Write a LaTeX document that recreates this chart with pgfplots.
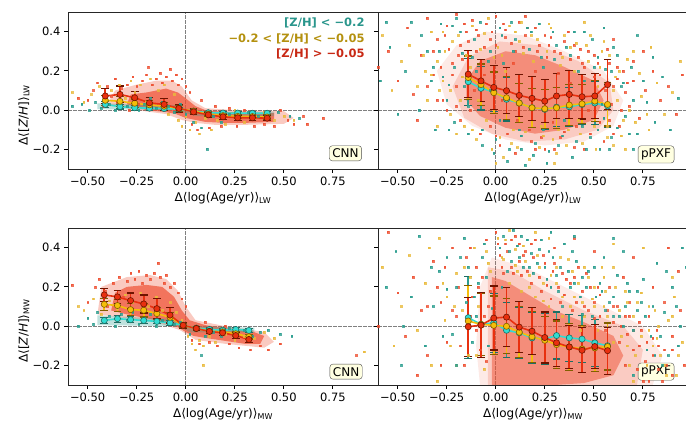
\documentclass[border=0pt]{standalone}
\usepackage{pgfplots}
\pgfplotsset{compat=1.18}
\usepackage{fontspec}
\setmainfont{DejaVu Sans}
\definecolor{tealS}{RGB}{42,157,143}
\definecolor{goldS}{RGB}{233,186,60}
\definecolor{redS}{RGB}{238,80,50}
\definecolor{cyanM}{RGB}{50,220,210}
\definecolor{cyanE}{RGB}{30,110,100}
\definecolor{goldM}{RGB}{245,190,10}
\definecolor{goldE}{RGB}{130,95,0}
\definecolor{redM}{RGB}{232,48,15}
\definecolor{redE}{RGB}{110,20,0}
\definecolor{tealT}{RGB}{42,150,140}
\definecolor{goldT}{RGB}{180,145,15}
\definecolor{redT}{RGB}{200,40,20}
\definecolor{boxfill}{RGB}{255,255,225}
\tikzset{lab/.style={draw=black!70, fill=boxfill, rounded corners=3pt, inner sep=3pt, font=\fontsize{12}{14}\selectfont}}
\pgfplotsset{
 panel/.style={width=310pt, height=157pt, scale only axis,
  xmin=-0.6, xmax=0.98, ymin=-0.3, ymax=0.5,
  xtick={-0.5,-0.25,0,0.25,0.5,0.75}, xticklabels={−0.50,−0.25,0.00,0.25,0.50,0.75},
  ytick={-0.2,0,0.2,0.4},
  tick align=outside, tick pos=left, major tick length=4pt,
  tick style={black, line width=0.8pt},
  axis line style={black!85, line width=0.9pt},
  tick label style={font=\fontsize{11.5}{13}\selectfont},
  label style={font=\fontsize{12}{14}\selectfont},
  xlabel style={at={(axis description cs:0.5,-0.185)}, anchor=center},
  ylabel style={at={(axis description cs:-0.142,0.344)}, anchor=center},
  axis on top, anchor=south west},
 zl/.style={gray, line width=0.7pt, dash pattern=on 3.5pt off 1.5pt},
 scR/.style={only marks, mark=square*, mark size=0.9pt, color=redS, opacity=0.8},
 scG/.style={only marks, mark=square*, mark size=0.9pt, color=goldS, opacity=0.8},
 scT/.style={only marks, mark=square*, mark size=0.9pt, color=tealS, opacity=0.8},
 mC/.style={color=cyanM, line width=1.6pt, mark=*, mark size=3.1pt, mark options={fill=cyanM, draw=cyanE, line width=0.6pt},
  error bars/y dir=both, error bars/y explicit, error bars/error bar style={line width=1.7pt, draw=tealS},
  error bars/error mark options={line width=1.2pt, mark size=3.8pt, draw=cyanE, rotate=90}},
 mG/.style={color=goldM, line width=1.6pt, mark=*, mark size=3.1pt, mark options={fill=goldM, draw=goldE, line width=0.6pt},
  error bars/y dir=both, error bars/y explicit, error bars/error bar style={line width=1.7pt, draw=goldM},
  error bars/error mark options={line width=1.2pt, mark size=3.8pt, draw=goldE, rotate=90}},
 mR/.style={color=redM, line width=1.6pt, mark=*, mark size=3.1pt, mark options={fill=redM, draw=redE, line width=0.6pt},
  error bars/y dir=both, error bars/y explicit, error bars/error bar style={line width=1.7pt, draw=redM},
  error bars/error mark options={line width=1.2pt, mark size=3.8pt, draw=redE, rotate=90}},
}
\begin{document}
\begin{tikzpicture}
\useasboundingbox (0,0) rectangle (686pt,423pt);
% ---------------- top left: CNN LW
\begin{axis}[panel, at={(68pt,254pt)}, yticklabels={−0.2,0.0,0.2,0.4},
 xlabel={Δ⟨log(Age/yr)⟩\textsubscript{LW}}, ylabel={Δ⟨[\textit{Z}/\textit{H}]⟩\textsubscript{LW}}]
\addplot[zl] coordinates {(0,-0.3) (0,0.5)};
\addplot[zl] coordinates {(-0.6,0) (0.98,0)};
\addplot[fill=redS, fill opacity=0.3, draw=none] coordinates {(-0.4,0.03)(-0.36,0.1)(-0.25,0.13)(-0.15,0.15)(-0.07,0.15)(-0.02,0.12)(0.03,0.05)(0.1,0.01)(0.25,0.0)(0.5,-0.005)(0.55,-0.04)(0.5,-0.07)(0.3,-0.075)(0.15,-0.075)(0.05,-0.065)(-0.02,-0.05)(-0.1,-0.02)(-0.25,0.0)} -- cycle;
\addplot[fill=redS, fill opacity=0.7, draw=none] coordinates {(-0.3,0.03)(-0.28,0.08)(-0.2,0.09)(-0.1,0.11)(-0.04,0.09)(0.0,0.06)(0.05,0.02)(0.1,0.0)(0.2,-0.01)(0.3,-0.015)(0.45,-0.015)(0.45,-0.06)(0.3,-0.065)(0.2,-0.065)(0.1,-0.06)(0.05,-0.05)(0.0,-0.04)(-0.05,-0.02)(-0.1,-0.01)(-0.2,0.0)} -- cycle;
\addplot[fill=tealS, fill opacity=0.3, draw=none] coordinates {(-0.45,0.005)(-0.45,0.035)(-0.05,0.025)(0.05,-0.008)(0.45,-0.008)(0.45,-0.03)(0.05,-0.03)(-0.05,0.0)} -- cycle;
\addplot[scR] coordinates {(-0.55,0.06)(-0.5,0.05)(-0.47,0.1)(-0.45,0.14)(-0.42,0.02)(-0.4,0.12)(-0.38,0.07)(-0.36,0.16)(-0.35,0.04)(-0.33,0.11)(-0.3,0.13)(-0.29,0.0)(-0.27,0.17)(-0.25,0.12)(-0.24,0.03)(-0.22,0.15)(-0.2,0.18)(-0.19,0.22)(-0.17,0.13)(-0.15,0.16)(-0.13,0.19)(-0.12,0.14)(-0.1,0.17)(-0.08,0.21)(-0.07,0.15)(-0.05,0.18)(-0.04,0.13)(-0.02,0.16)(0.0,0.12)(0.02,0.09)(0.03,-0.07)(0.06,-0.1)(0.08,0.05)(0.12,-0.09)(0.15,0.02)(0.18,-0.08)(0.22,0.01)(0.26,-0.08)(0.3,0.0)(0.35,-0.08)(0.4,-0.07)(0.45,-0.08)(0.48,0.0)(0.52,-0.05)(0.55,-0.07)(0.6,-0.03)(0.62,-0.07)(0.7,-0.04)};
\addplot[scG] coordinates {(-0.58,0.09)(-0.52,0.04)(-0.48,0.08)(-0.44,0.12)(-0.41,0.05)(-0.38,0.1)(-0.34,0.13)(-0.31,0.06)(-0.28,0.15)(-0.26,0.09)(-0.23,0.13)(-0.2,0.04)(-0.18,0.16)(-0.14,0.1)(-0.11,0.13)(-0.09,-0.02)(-0.06,0.08)(-0.04,-0.05)(-0.02,-0.08)(0.0,-0.03)(0.02,-0.1)(0.05,-0.06)(0.07,-0.12)(0.1,-0.04)(0.13,-0.1)(0.16,-0.05)(0.2,-0.07)(0.25,0.0)(0.3,-0.06)(0.35,-0.04)(0.4,-0.01)(0.45,-0.05)(0.5,-0.03)(0.55,-0.05)};
\addplot[scT] coordinates {(-0.58,0.02)(-0.53,0.03)(-0.49,0.0)(-0.46,0.04)(-0.43,0.01)(-0.39,0.03)(-0.36,0.0)(-0.33,0.05)(-0.3,0.02)(-0.27,0.04)(-0.24,0.0)(-0.21,0.03)(-0.18,0.06)(-0.15,0.01)(-0.12,0.04)(-0.09,0.02)(-0.06,-0.01)(-0.03,0.03)(0.0,-0.02)(0.04,-0.06)(0.08,-0.09)(0.11,-0.2)(0.14,-0.03)(0.18,-0.06)(0.22,-0.02)(0.27,-0.04)(0.32,-0.01)(0.37,-0.03)(0.42,-0.02)(0.47,-0.01)(0.53,-0.03)(0.58,-0.04)};
\addplot[mC] coordinates {(-0.41,0.029) +- (0,0.015) (-0.335,0.018) +- (0,0.012) (-0.26,0.012) +- (0,0.012) (-0.185,0.01) +- (0,0.01) (-0.11,0.008) +- (0,0.01) (-0.035,0.005) +- (0,0.01) (0.04,-0.005) +- (0,0.008) (0.115,-0.013) +- (0,0.008) (0.19,-0.015) +- (0,0.008) (0.265,-0.015) +- (0,0.008) (0.34,-0.016) +- (0,0.008) (0.415,-0.016) +- (0,0.008)};
\addplot[mG] coordinates {(-0.41,0.05) +- (0,0.025) (-0.335,0.045) +- (0,0.025) (-0.26,0.035) +- (0,0.022) (-0.185,0.027) +- (0,0.02) (-0.11,0.02) +- (0,0.02) (-0.035,0.008) +- (0,0.015) (0.04,-0.005) +- (0,0.012) (0.115,-0.02) +- (0,0.01) (0.19,-0.028) +- (0,0.01) (0.265,-0.032) +- (0,0.01) (0.34,-0.033) +- (0,0.01) (0.415,-0.035) +- (0,0.01)};
\addplot[mR] coordinates {(-0.41,0.072) +- (0,0.04) (-0.335,0.08) +- (0,0.043) (-0.26,0.063) +- (0,0.03) (-0.185,0.037) +- (0,0.026) (-0.11,0.029) +- (0,0.03) (-0.035,0.009) +- (0,0.02) (0.04,-0.009) +- (0,0.015) (0.115,-0.024) +- (0,0.012) (0.19,-0.034) +- (0,0.012) (0.265,-0.039) +- (0,0.012) (0.34,-0.039) +- (0,0.012) (0.415,-0.041) +- (0,0.012)};
\node[lab] at (rel axis cs:0.895,0.1) {CNN};
\node[anchor=east, font=\fontsize{11.5}{13}\selectfont\bfseries, text=tealT] at (rel axis cs:0.968,0.93) {[Z/H] < −0.2};
\node[anchor=east, font=\fontsize{11.5}{13}\selectfont\bfseries, text=goldT] at (rel axis cs:0.968,0.828) {−0.2 < [Z/H] < −0.05};
\node[anchor=east, font=\fontsize{11.5}{13}\selectfont\bfseries, text=redT] at (rel axis cs:0.968,0.732) {[Z/H] > −0.05};
\end{axis}
% ---------------- top right: pPXF LW
\begin{axis}[panel, at={(378pt,254pt)}, yticklabels={},
 xlabel={Δ⟨log(Age/yr)⟩\textsubscript{LW}}]
\addplot[zl] coordinates {(0,-0.3) (0,0.5)};
\addplot[zl] coordinates {(-0.6,0) (0.98,0)};
\addplot[fill=redS, fill opacity=0.12, draw=none] coordinates {(-0.3,0.2)(-0.2,0.33)(-0.05,0.4)(0.15,0.38)(0.35,0.3)(0.55,0.2)(0.65,0.05)(0.6,-0.08)(0.45,-0.16)(0.25,-0.18)(0.05,-0.15)(-0.12,-0.08)(-0.25,0.03)} -- cycle;
\addplot[fill=redS, fill opacity=0.2, draw=none] coordinates {(-0.22,0.12)(-0.14,0.27)(0.02,0.35)(0.22,0.33)(0.42,0.25)(0.58,0.14)(0.6,0.0)(0.52,-0.1)(0.35,-0.15)(0.15,-0.16)(-0.02,-0.12)(-0.16,-0.04)} -- cycle;
\addplot[fill=redS, fill opacity=0.5, draw=none] coordinates {(-0.15,0.15)(-0.08,0.25)(0.05,0.3)(0.2,0.28)(0.35,0.22)(0.5,0.15)(0.55,0.05)(0.5,-0.05)(0.35,-0.1)(0.2,-0.12)(0.05,-0.09)(-0.08,-0.03)(-0.15,0.05)} -- cycle;
\addplot[scR] coordinates {(-0.55,0.3)(-0.5,0.15)(-0.45,0.42)(-0.42,0.08)(-0.38,0.28)(-0.35,0.47)(-0.32,0.18)(-0.3,0.36)(-0.27,0.05)(-0.25,0.43)(-0.22,0.24)(-0.2,0.49)(-0.18,0.33)(-0.15,0.4)(-0.12,0.46)(-0.1,0.3)(-0.08,-0.12)(-0.05,0.44)(-0.03,0.36)(0.0,0.48)(0.02,-0.18)(0.05,0.41)(0.08,0.34)(0.1,-0.22)(0.12,0.45)(0.15,0.38)(0.18,-0.16)(0.2,0.42)(0.22,0.33)(0.25,-0.2)(0.28,0.37)(0.3,0.3)(0.33,-0.14)(0.35,0.35)(0.38,0.26)(0.4,-0.19)(0.43,0.31)(0.45,0.22)(0.48,-0.12)(0.5,0.28)(0.53,0.18)(0.55,-0.16)(0.58,0.24)(0.6,0.12)(0.63,-0.08)(0.65,0.2)(0.68,0.02)(0.7,0.15)(0.73,-0.04)(0.76,0.1)(0.8,0.2)(0.84,0.05)(0.88,0.12)(0.92,-0.02)(-0.6,0.22)(0.95,0.18)(0.6,0.36)(-0.4,-0.05)(0.75,0.3)(0.15,0.48)
(-0.28,0.22)(-0.24,0.31)(-0.2,0.12)(-0.17,0.26)(-0.14,0.35)(-0.11,0.1)(-0.09,0.38)(-0.06,0.18)(-0.03,-0.08)(0.0,0.33)(0.03,0.05)(0.06,-0.12)(0.09,0.24)(0.11,-0.05)(0.14,0.32)(0.17,-0.1)(0.2,0.2)(0.23,-0.14)(0.26,0.27)(0.29,-0.06)(0.32,0.19)(0.35,-0.11)(0.38,0.14)(0.41,-0.08)(0.44,0.24)(0.47,0.0)(0.5,0.17)(0.53,-0.06)(0.56,0.1)(0.59,0.03)(0.62,0.16)(-0.25,0.0)(-0.18,-0.05)(0.05,0.37)(0.25,0.38)(0.4,0.33)(0.6,-0.12)(0.66,0.09)(-0.32,0.3)(0.3,-0.2)
(-0.35,0.12)(-0.3,0.05)(-0.26,0.38)(-0.22,0.18)(-0.19,0.28)(-0.16,0.44)(-0.13,0.0)(-0.1,0.41)(-0.06,0.32)(-0.02,0.4)(0.04,0.44)(0.1,0.3)(0.16,0.42)(0.21,0.3)(0.27,0.33)(0.33,0.29)(0.37,0.4)(0.42,0.27)(0.47,0.3)(0.52,0.24)(0.57,0.31)(0.62,0.22)(0.67,0.14)(0.7,0.25)(0.64,0.0)(0.58,-0.05)(0.45,-0.2)(0.2,-0.2)(0.0,-0.13)(-0.2,0.02)};
\addplot[scG] coordinates {(-0.58,0.38)(-0.53,0.1)(-0.48,0.25)(-0.44,0.33)(-0.4,0.12)(-0.36,0.2)(-0.33,0.4)(-0.29,0.1)(-0.26,0.3)(-0.23,-0.02)(-0.19,0.38)(-0.16,-0.08)(-0.13,0.22)(-0.1,-0.15)(-0.06,0.39)(-0.02,-0.2)(0.01,0.32)(0.04,-0.24)(0.07,0.43)(0.11,-0.19)(0.14,0.29)(0.17,-0.25)(0.21,0.36)(0.24,-0.13)(0.27,0.44)(0.31,-0.22)(0.34,0.27)(0.37,-0.1)(0.41,0.34)(0.44,-0.17)(0.47,0.25)(0.51,-0.2)(0.54,0.3)(0.57,-0.08)(0.61,0.17)(0.64,-0.13)(0.67,0.26)(0.71,-0.06)(0.74,0.07)(0.78,-0.1)(0.82,0.14)(0.86,-0.02)(0.9,0.09)(0.94,0.25)(0.66,-0.2)(0.45,0.45)(-0.3,-0.08)(0.79,0.32)(0.3,-0.27)(0.0,-0.27)
(-0.27,0.15)(-0.22,0.35)(-0.18,0.05)(-0.15,0.28)(-0.12,-0.1)(-0.08,0.31)(-0.05,-0.05)(-0.01,0.27)(0.02,-0.14)(0.05,0.2)(0.08,-0.17)(0.12,0.35)(0.15,-0.11)(0.19,0.25)(0.22,-0.19)(0.26,0.3)(0.29,-0.15)(0.33,0.23)(0.36,-0.18)(0.4,0.2)(0.43,-0.12)(0.46,0.33)(0.5,-0.08)(0.53,0.22)(0.57,-0.14)(0.6,0.1)(0.63,0.2)(-0.3,0.25)(-0.2,-0.12)(0.1,0.4)(0.35,0.38)(0.55,0.35)(0.68,0.0)(-0.35,0.05)(0.65,-0.05)
(-0.37,0.28)(-0.33,0.18)(-0.27,0.4)(-0.23,0.1)(-0.17,0.17)(-0.12,0.43)(-0.09,0.05)(-0.04,0.47)(0.03,0.28)(0.09,-0.1)(0.13,0.45)(0.18,0.38)(0.23,-0.08)(0.28,0.42)(0.32,-0.1)(0.38,0.32)(0.42,-0.05)(0.48,0.38)(0.52,0.12)(0.58,0.28)(0.62,0.05)(0.7,0.3)(0.73,0.19)(0.77,-0.02)(0.6,-0.18)};
\addplot[scT] coordinates {(-0.59,0.15)(-0.54,0.32)(-0.5,-0.02)(-0.46,0.2)(-0.43,0.45)(-0.39,0.0)(-0.35,0.3)(-0.31,-0.1)(-0.28,0.44)(-0.24,0.13)(-0.21,-0.06)(-0.17,0.29)(-0.14,-0.12)(-0.11,0.36)(-0.07,-0.18)(-0.04,0.25)(-0.01,-0.22)(0.03,0.38)(0.06,-0.26)(0.09,0.3)(0.13,-0.2)(0.16,0.42)(0.19,-0.23)(0.23,0.27)(0.26,-0.27)(0.29,0.4)(0.32,-0.18)(0.36,0.32)(0.39,-0.24)(0.42,0.2)(0.46,-0.2)(0.49,0.36)(0.52,-0.1)(0.56,0.21)(0.59,-0.14)(0.62,0.28)(0.66,-0.03)(0.69,0.22)(0.72,-0.12)(0.77,0.04)(0.81,-0.06)(0.85,0.17)(0.89,-0.1)(0.93,0.06)(-0.56,0.45)(0.55,0.42)(-0.2,0.47)(0.72,0.38)(0.15,-0.28)(0.7,-0.2)
(-0.29,0.3)(-0.25,0.05)(-0.21,0.22)(-0.18,0.4)(-0.14,0.02)(-0.1,0.2)(-0.07,-0.1)(-0.03,0.3)(0.0,-0.15)(0.04,0.24)(0.07,-0.2)(0.1,0.36)(0.13,-0.13)(0.17,0.31)(0.2,-0.17)(0.24,0.22)(0.27,-0.21)(0.31,0.33)(0.34,-0.13)(0.38,0.28)(0.41,-0.16)(0.45,0.15)(0.48,-0.14)(0.52,0.27)(0.55,-0.04)(0.59,0.2)(0.62,-0.09)(0.65,0.14)(-0.33,0.15)(-0.24,-0.1)(0.02,0.42)(0.22,0.44)(0.45,0.4)(0.7,0.05)(0.58,-0.2)
(-0.38,0.38)(-0.32,0.22)(-0.27,0.17)(-0.22,0.43)(-0.16,0.12)(-0.12,0.27)(-0.08,0.45)(-0.03,0.1)(0.02,-0.05)(0.08,0.45)(0.12,-0.1)(0.18,0.4)(0.24,-0.1)(0.3,0.26)(0.35,-0.05)(0.4,0.4)(0.44,-0.08)(0.5,0.22)(0.54,0.03)(0.6,0.32)(0.64,0.12)(0.68,-0.12)(0.75,0.15)(0.8,0.27)(0.53,-0.2)};
\addplot[mC] coordinates {(-0.14,0.145) +- (0,0.12) (-0.075,0.111) +- (0,0.11) (-0.01,0.094) +- (0,0.1) (0.055,0.055) +- (0,0.11) (0.12,0.036) +- (0,0.1) (0.185,0.012) +- (0,0.1) (0.25,0.004) +- (0,0.1) (0.31,0.015) +- (0,0.1) (0.375,0.017) +- (0,0.1) (0.44,0.029) +- (0,0.1) (0.505,0.036) +- (0,0.11) (0.57,0.021) +- (0,0.11)};
\addplot[mG] coordinates {(-0.14,0.166) +- (0,0.11) (-0.075,0.13) +- (0,0.105) (-0.01,0.089) +- (0,0.105) (0.055,0.063) +- (0,0.11) (0.12,0.036) +- (0,0.1) (0.185,0.012) +- (0,0.1) (0.25,0.007) +- (0,0.1) (0.31,0.012) +- (0,0.105) (0.375,0.026) +- (0,0.105) (0.44,0.032) +- (0,0.1) (0.505,0.046) +- (0,0.105) (0.57,0.029) +- (0,0.11)};
\addplot[mR] coordinates {(-0.14,0.183) +- (0,0.12) (-0.075,0.149) +- (0,0.107) (-0.01,0.116) +- (0,0.113) (0.055,0.099) +- (0,0.118) (0.12,0.075) +- (0,0.108) (0.185,0.06) +- (0,0.111) (0.25,0.046) +- (0,0.111) (0.31,0.072) +- (0,0.116) (0.375,0.08) +- (0,0.123) (0.44,0.068) +- (0,0.113) (0.505,0.072) +- (0,0.114) (0.57,0.13) +- (0,0.126)};
\node[lab] at (rel axis cs:0.897,0.093) {pPXF};
\end{axis}
% ---------------- bottom left: CNN MW
\begin{axis}[panel, at={(68pt,38pt)}, yticklabels={−0.2,0.0,0.2,0.4},
 xlabel={Δ⟨log(Age/yr)⟩\textsubscript{MW}}, ylabel={Δ⟨[\textit{Z}/\textit{H}]⟩\textsubscript{MW}}]
\addplot[zl] coordinates {(0,-0.3) (0,0.5)};
\addplot[zl] coordinates {(-0.6,0) (0.98,0)};
\addplot[fill=redS, fill opacity=0.3, draw=none] coordinates {(-0.45,0.06)(-0.43,0.2)(-0.3,0.25)(-0.18,0.26)(-0.1,0.24)(-0.04,0.18)(0.0,0.1)(0.05,0.03)(0.2,0.0)(0.4,-0.03)(0.45,-0.08)(0.4,-0.11)(0.2,-0.09)(0.05,-0.07)(-0.03,-0.02)(-0.15,0.02)(-0.3,0.04)} -- cycle;
\addplot[fill=redS, fill opacity=0.7, draw=none] coordinates {(-0.38,0.08)(-0.36,0.17)(-0.3,0.2)(-0.2,0.21)(-0.12,0.2)(-0.06,0.15)(-0.02,0.08)(0.02,0.03)(0.1,0.005)(0.2,-0.01)(0.32,-0.02)(0.4,-0.05)(0.38,-0.09)(0.3,-0.09)(0.2,-0.075)(0.1,-0.06)(0.04,-0.05)(0.0,-0.03)(-0.05,0.0)(-0.1,0.02)(-0.2,0.04)(-0.3,0.06)} -- cycle;
\addplot[fill=tealS, fill opacity=0.3, draw=none] coordinates {(-0.45,0.005)(-0.45,0.055)(-0.05,0.035)(0.02,0.0)(0.35,-0.008)(0.35,-0.032)(0.02,-0.032)(-0.03,0.0)} -- cycle;
\addplot[scR] coordinates {(-0.58,0.21)(-0.5,0.12)(-0.46,0.2)(-0.44,0.24)(-0.41,0.18)(-0.4,0.1)(-0.37,0.22)(-0.34,0.25)(-0.32,0.15)(-0.3,0.23)(-0.28,0.27)(-0.26,0.24)(-0.24,0.28)(-0.22,0.22)(-0.2,0.26)(-0.18,0.24)(-0.16,0.27)(-0.14,0.32)(-0.13,0.25)(-0.11,0.22)(-0.1,0.26)(-0.08,0.2)(-0.06,0.22)(-0.04,0.17)(-0.02,0.14)(0.0,0.1)(0.03,-0.07)(0.07,-0.09)(0.12,-0.08)(0.16,-0.1)(0.22,-0.09)(0.27,-0.11)(0.33,-0.12)(0.38,-0.1)(0.42,-0.12)(0.48,-0.09)(0.87,-0.15)(0.1,0.02)(0.2,0.0)};
\addplot[scG] coordinates {(-0.55,0.1)(-0.52,0.08)(-0.47,0.14)(-0.43,0.06)(-0.39,0.13)(-0.35,0.09)(-0.31,0.16)(-0.27,0.12)(-0.23,0.17)(-0.19,0.1)(-0.15,0.15)(-0.12,0.08)(-0.08,0.12)(-0.05,0.07)(-0.02,0.03)(0.01,-0.05)(0.03,-0.09)(0.05,-0.12)(0.07,-0.07)(0.09,-0.1)(0.12,-0.05)(0.15,-0.08)(0.2,-0.04)(0.25,-0.07)(0.3,-0.05)(0.35,-0.06)(0.4,-0.03)(0.45,-0.06)(0.09,-0.2)(0.91,-0.13)};
\addplot[scT] coordinates {(-0.55,0.0)(-0.5,0.04)(-0.47,0.01)(-0.45,0.07)(-0.42,0.02)(-0.39,0.05)(-0.36,0.0)(-0.33,0.06)(-0.3,0.03)(-0.27,0.07)(-0.24,0.01)(-0.21,0.04)(-0.18,0.06)(-0.15,0.0)(-0.12,0.03)(-0.09,0.05)(-0.06,0.01)(-0.03,0.02)(0.02,-0.04)(0.05,-0.02)(0.08,-0.15)(0.1,-0.05)(0.14,-0.03)(0.18,-0.05)(0.22,-0.01)(0.26,-0.04)(0.3,-0.02)(0.34,-0.05)(0.38,-0.03)(0.42,-0.02)(0.48,-0.04)(0.54,-0.05)};
\addplot[mC] coordinates {(-0.415,0.029) +- (0,0.015) (-0.348,0.038) +- (0,0.018) (-0.281,0.033) +- (0,0.015) (-0.214,0.029) +- (0,0.015) (-0.147,0.024) +- (0,0.012) (-0.08,0.017) +- (0,0.012) (-0.013,0.004) +- (0,0.008) (0.054,-0.01) +- (0,0.008) (0.121,-0.017) +- (0,0.008) (0.188,-0.021) +- (0,0.008) (0.255,-0.017) +- (0,0.01) (0.322,-0.022) +- (0,0.01)};
\addplot[mG] coordinates {(-0.415,0.111) +- (0,0.03) (-0.348,0.105) +- (0,0.03) (-0.281,0.084) +- (0,0.03) (-0.214,0.081) +- (0,0.035) (-0.147,0.064) +- (0,0.03) (-0.08,0.045) +- (0,0.025) (-0.013,0.004) +- (0,0.012) (0.054,-0.012) +- (0,0.01) (0.121,-0.026) +- (0,0.01) (0.188,-0.029) +- (0,0.01) (0.255,-0.039) +- (0,0.012) (0.322,-0.054) +- (0,0.012)};
\addplot[mR] coordinates {(-0.415,0.159) +- (0,0.034) (-0.348,0.149) +- (0,0.034) (-0.281,0.13) +- (0,0.039) (-0.214,0.113) +- (0,0.046) (-0.147,0.089) +- (0,0.051) (-0.08,0.056) +- (0,0.04) (-0.013,0.004) +- (0,0.015) (0.054,-0.012) +- (0,0.012) (0.121,-0.027) +- (0,0.012) (0.188,-0.034) +- (0,0.012) (0.255,-0.048) +- (0,0.014) (0.322,-0.068) +- (0,0.015)};
\node[lab] at (rel axis cs:0.897,0.085) {CNN};
\end{axis}
% ---------------- bottom right: pPXF MW
\begin{axis}[panel, at={(378pt,38pt)}, yticklabels={},
 xlabel={Δ⟨log(Age/yr)⟩\textsubscript{MW}}]
\addplot[zl] coordinates {(0,-0.3) (0,0.5)};
\addplot[zl] coordinates {(-0.6,0) (0.98,0)};
\addplot[fill=redS, fill opacity=0.12, draw=none] coordinates {(-0.08,0.2)(-0.02,0.35)(0.15,0.3)(0.35,0.2)(0.55,0.1)(0.75,0.0)(0.85,-0.15)(0.8,-0.3)(-0.08,-0.3)(-0.1,-0.1)} -- cycle;
\addplot[fill=redS, fill opacity=0.2, draw=none] coordinates {(-0.04,0.3)(0.08,0.28)(0.25,0.18)(0.45,0.08)(0.65,0.0)(0.75,-0.12)(0.72,-0.3)(-0.04,-0.3)} -- cycle;
\addplot[fill=redS, fill opacity=0.5, draw=none] coordinates {(-0.02,0.25)(0.05,0.23)(0.15,0.17)(0.3,0.08)(0.45,0.02)(0.6,-0.05)(0.65,-0.15)(0.6,-0.25)(0.45,-0.29)(0.3,-0.3)(0.1,-0.3)(-0.02,-0.3)} -- cycle;
\addplot[scR] coordinates {(-0.55,0.48)(-0.5,0.17)(-0.46,-0.05)(-0.42,0.25)(-0.38,0.08)(-0.35,-0.15)(-0.32,0.33)(-0.28,0.12)(-0.25,-0.08)(-0.22,0.4)(-0.19,0.2)(-0.16,-0.2)(-0.13,0.05)(-0.1,0.3)(-0.08,-0.12)(-0.05,0.44)(-0.03,0.18)(0.0,0.48)(0.02,0.36)(0.05,0.42)(0.08,0.3)(0.1,0.46)(0.13,0.26)(0.15,0.38)(0.18,0.22)(0.2,0.44)(0.23,0.18)(0.25,0.32)(0.28,0.14)(0.3,0.4)(0.33,0.12)(0.36,0.24)(0.39,0.08)(0.42,0.3)(0.45,0.1)(0.48,0.2)(0.5,0.04)(0.53,0.16)(0.56,-0.02)(0.6,0.1)(0.63,-0.08)(0.66,0.05)(0.7,-0.12)(0.73,0.02)(0.76,-0.18)(0.8,-0.06)(0.83,-0.22)(0.86,0.12)(0.9,-0.12)(0.93,0.28)(0.96,-0.2)(0.88,0.4)(0.7,0.35)(0.5,0.38)(-0.6,0.0)(-0.4,-0.25)(0.8,0.2)(0.65,0.25)(0.4,0.45)(0.85,-0.28)
(-0.12,0.15)(-0.1,-0.02)(-0.07,0.25)(-0.05,-0.18)(-0.04,0.1)(0.03,0.3)(0.06,0.38)(0.09,0.27)(0.12,0.33)(0.16,0.28)(0.19,0.35)(0.22,0.25)(0.26,0.21)(0.29,0.28)(0.32,0.2)(0.35,0.16)(0.38,0.22)(0.41,0.12)(0.44,0.18)(0.47,0.08)(0.5,0.12)(0.53,0.05)(0.57,0.08)(0.6,0.02)(0.64,0.0)(0.67,-0.04)(0.7,-0.02)(0.73,-0.1)(0.77,-0.08)(0.8,-0.15)(0.83,-0.1)(0.87,-0.2)(0.9,-0.05)(0.72,-0.22)(0.78,-0.28)(0.68,0.12)(-0.2,0.05)(-0.28,-0.2)(-0.15,0.35)(0.12,0.42)
(-0.3,0.2)(-0.26,0.3)(-0.22,0.08)(-0.18,-0.1)(-0.13,0.4)(-0.09,0.2)(-0.06,0.05)(0.01,0.42)(0.04,0.27)(0.08,0.44)(0.14,0.36)(0.18,0.42)(0.24,0.36)(0.3,0.32)(0.34,0.27)(0.4,0.25)(0.46,0.27)(0.52,0.2)(0.58,0.2)(0.62,0.1)(0.68,0.05)(0.74,-0.02)(0.78,0.05)(0.82,-0.02)(0.86,-0.12)(0.9,-0.25)(0.94,0.08)(0.66,-0.2)(0.75,-0.28)(-0.35,0.1)};
\addplot[scG] coordinates {(-0.58,0.3)(-0.52,-0.1)(-0.48,0.1)(-0.44,0.36)(-0.4,-0.02)(-0.36,0.22)(-0.33,-0.2)(-0.29,0.45)(-0.26,0.03)(-0.23,-0.1)(-0.2,0.27)(-0.17,0.08)(-0.14,-0.15)(-0.11,0.4)(-0.07,0.0)(-0.04,0.32)(0.01,0.45)(0.04,0.34)(0.07,0.49)(0.11,0.28)(0.14,0.41)(0.17,0.2)(0.21,0.36)(0.24,0.13)(0.27,0.45)(0.31,0.22)(0.34,0.05)(0.37,0.34)(0.4,0.15)(0.43,-0.02)(0.47,0.25)(0.5,0.1)(0.54,0.3)(0.57,0.05)(0.61,0.2)(0.64,-0.05)(0.67,0.12)(0.71,-0.15)(0.74,0.17)(0.78,-0.02)(0.81,0.08)(0.84,-0.15)(0.88,0.03)(0.91,0.15)(0.95,-0.08)(0.75,0.4)(0.6,0.42)(0.92,-0.25)(-0.3,-0.28)(0.2,0.48)
(-0.13,0.25)(-0.09,0.1)(-0.06,-0.22)(-0.03,0.28)(0.03,0.35)(0.07,0.22)(0.1,0.31)(0.13,0.18)(0.17,0.26)(0.2,0.15)(0.24,0.22)(0.27,0.1)(0.31,0.3)(0.34,0.15)(0.38,0.1)(0.42,0.22)(0.45,0.05)(0.49,0.14)(0.52,-0.02)(0.56,0.18)(0.6,-0.08)(0.63,0.08)(0.67,-0.1)(0.7,0.05)(0.74,-0.05)(0.77,-0.2)(0.8,-0.1)(0.83,0.0)(0.87,-0.25)(0.7,-0.28)(-0.2,-0.2)(-0.25,0.15)(0.55,0.25)(0.45,0.3)(0.9,0.05)
(-0.34,0.4)(-0.27,0.22)(-0.21,0.1)(-0.16,0.3)(-0.1,-0.15)(-0.05,0.38)(0.05,0.44)(0.1,0.39)(0.15,0.33)(0.22,0.3)(0.28,0.26)(0.33,0.35)(0.39,0.28)(0.44,0.12)(0.5,0.2)(0.55,0.1)(0.6,0.3)(0.66,0.18)(0.72,0.12)(0.78,0.1)(0.82,-0.06)(0.86,-0.2)(0.93,-0.15)(0.68,-0.2)(0.9,0.25)};
\addplot[scT] coordinates {(-0.56,0.2)(-0.51,0.38)(-0.47,0.0)(-0.43,0.15)(-0.39,0.46)(-0.36,-0.1)(-0.32,0.1)(-0.29,0.28)(-0.25,0.19)(-0.22,-0.04)(-0.18,0.35)(-0.15,0.12)(-0.12,-0.08)(-0.09,0.22)(-0.06,0.42)(-0.02,0.09)(0.02,0.4)(0.06,0.28)(0.09,0.49)(0.12,0.35)(0.16,0.44)(0.19,0.27)(0.22,0.39)(0.26,0.24)(0.29,0.35)(0.32,0.18)(0.35,0.42)(0.38,0.2)(0.41,0.33)(0.44,0.06)(0.47,0.28)(0.51,0.15)(0.55,0.35)(0.58,0.12)(0.62,0.26)(0.65,0.0)(0.68,0.18)(0.72,0.08)(0.75,0.24)(0.79,-0.05)(0.82,0.32)(0.86,0.07)(0.9,0.2)(0.94,0.0)(0.97,0.3)(0.85,-0.2)(0.7,-0.25)(-0.48,-0.2)(0.28,0.48)(0.6,0.45)
(-0.14,0.3)(-0.1,0.05)(-0.07,0.35)(-0.04,-0.1)(0.04,0.46)(0.08,0.33)(0.11,0.41)(0.14,0.3)(0.18,0.37)(0.21,0.32)(0.25,0.3)(0.28,0.2)(0.31,0.26)(0.34,0.1)(0.37,0.28)(0.4,0.22)(0.43,0.15)(0.46,0.2)(0.49,0.05)(0.53,0.22)(0.56,0.08)(0.6,0.15)(0.63,0.05)(0.67,0.22)(0.7,-0.02)(0.74,0.12)(0.77,-0.12)(0.8,0.1)(0.84,-0.05)(0.88,-0.15)(0.92,0.1)(-0.25,0.35)(-0.2,-0.2)(0.4,0.46)(0.65,0.38)
(-0.33,0.3)(-0.27,-0.05)(-0.2,0.2)(-0.16,0.45)(-0.11,0.15)(-0.05,0.25)(0.03,0.2)(0.07,0.38)(0.13,0.46)(0.17,0.3)(0.23,0.44)(0.27,0.38)(0.33,0.3)(0.39,0.38)(0.44,0.25)(0.5,0.3)(0.54,0.18)(0.6,0.05)(0.66,0.1)(0.72,0.18)(0.76,0.05)(0.81,-0.15)(0.87,0.28)(0.93,-0.1)(0.95,0.4)};
\addplot[mC] coordinates {(-0.14,0.043) +- (0,0.21) (-0.075,0.009) +- (0,0.16) (-0.01,0.017) +- (0,0.15) (0.055,-0.021) +- (0,0.14) (0.12,-0.034) +- (0,0.13) (0.185,-0.06) +- (0,0.13) (0.25,-0.065) +- (0,0.13) (0.31,-0.048) +- (0,0.12) (0.375,-0.06) +- (0,0.12) (0.44,-0.066) +- (0,0.12) (0.505,-0.085) +- (0,0.12) (0.57,-0.1) +- (0,0.12)};
\addplot[mG] coordinates {(-0.14,0.026) +- (0,0.18) (-0.075,0.009) +- (0,0.16) (-0.01,0.004) +- (0,0.15) (0.055,-0.001) +- (0,0.14) (0.12,-0.031) +- (0,0.13) (0.185,-0.054) +- (0,0.13) (0.25,-0.072) +- (0,0.12) (0.31,-0.094) +- (0,0.12) (0.375,-0.106) +- (0,0.12) (0.44,-0.116) +- (0,0.12) (0.505,-0.111) +- (0,0.12) (0.57,-0.104) +- (0,0.12)};
\addplot[mR] coordinates {(-0.14,-0.003) +- (0,0.15) (-0.075,0.005) +- (0,0.165) (-0.01,0.041) +- (0,0.163) (0.055,0.046) +- (0,0.15) (0.12,-0.005) +- (0,0.13) (0.185,-0.026) +- (0,0.12) (0.25,-0.058) +- (0,0.13) (0.31,-0.085) +- (0,0.12) (0.375,-0.106) +- (0,0.11) (0.44,-0.123) +- (0,0.115) (0.505,-0.104) +- (0,0.113) (0.57,-0.125) +- (0,0.12)};
\node[lab] at (rel axis cs:0.897,0.085) {pPXF};
\end{axis}
\end{tikzpicture}
\end{document}
